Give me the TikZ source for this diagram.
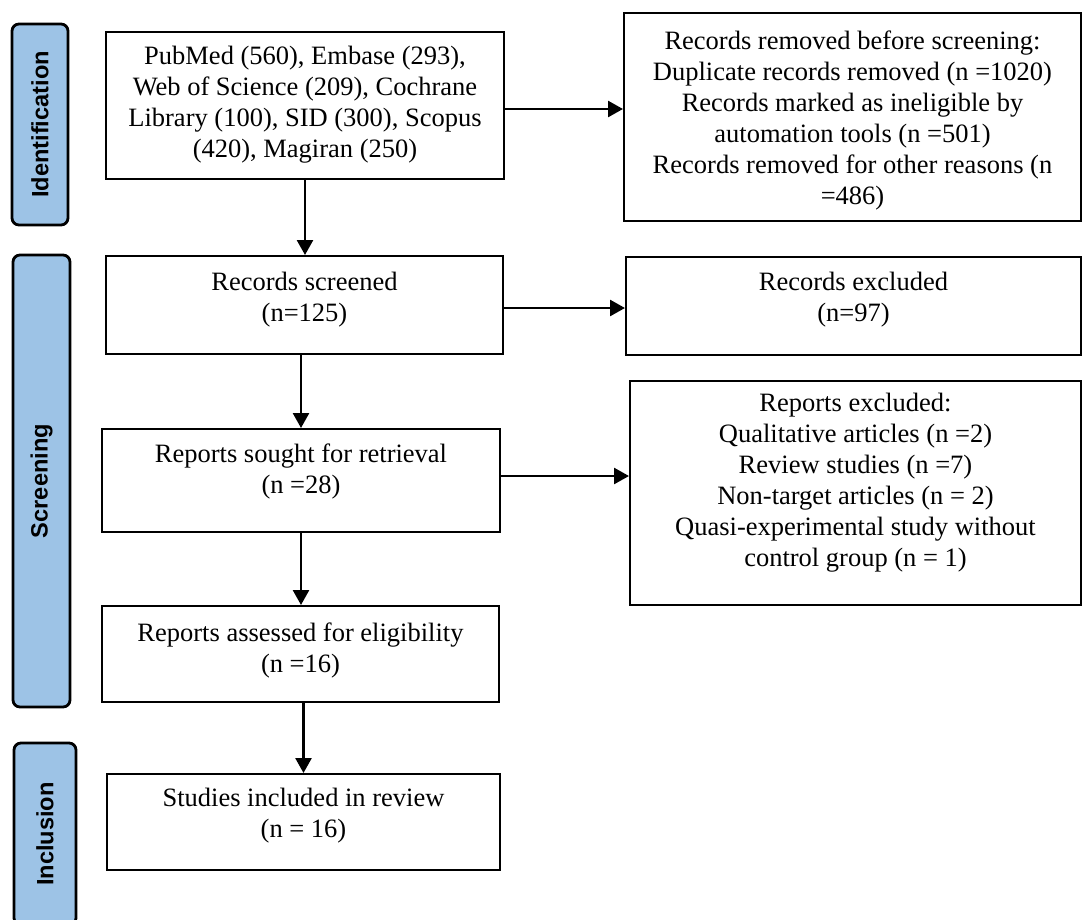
\documentclass[tikz,border=0pt]{standalone}
\usepackage{fontspec}
\setmainfont{Liberation Serif}
\newfontfamily\labfont{Liberation Sans}
\usetikzlibrary{arrows.meta,calc}
\definecolor{phase}{RGB}{157,195,230}
\tikzset{
  box/.style={draw=black,line width=2.8pt,inner sep=0pt,outer sep=0pt,fill=white},
  txt/.style={align=center,inner sep=0pt,font=\fontsize{26.5}{31}\selectfont},
  phasebox/.style={draw=black,line width=2.8pt,fill=phase,rounded corners=7pt,inner sep=0pt,outer sep=0pt},
  phasetxt/.style={rotate=90,inner sep=0pt,font=\labfont\bfseries\fontsize{23.6}{28}\selectfont},
  arr/.style={line width=2.6pt,-{Triangle[length=15pt,width=16pt]},shorten >=1pt}
}
\begin{document}
\begin{tikzpicture}[x=1pt,y=-1pt]
\useasboundingbox (0,0) rectangle (1083,919);
\begin{scope}
\clip (0,0) rectangle (1083,919);
% phase boxes
\node[phasebox,minimum width=56pt,minimum height=201pt] (pid) at (40,124.5) {};
\node[phasetxt] (pidt) at (pid.center) {Identification};
\node[phasebox,minimum width=57pt,minimum height=452pt] (pscr) at (41.5,481) {};
\node[phasetxt] (pscrt) at (pscr.center) {Screening};
\node[phasebox,minimum width=62pt,minimum height=182pt] (pinc) at (45,834) {};
\node[phasetxt] (pinct) at (pinc.center) {Inclusion};
\end{scope}
% boxes
\node[box,minimum width=398pt,minimum height=147pt] (b1) at (305,105.5) {};
\node[txt] (b1t) at ([yshift=1pt]b1.center) {PubMed (560), Embase (293),\\Web of Science (209), Cochrane\\Library (100), SID (300), Scopus\\(420), Magiran (250)};
\node[box,minimum width=457pt,minimum height=208pt] (rem) at (852.5,117) {};
\node[txt] (remt) at ([yshift=-3pt]rem.center) {Records removed before screening:\\Duplicate records removed (n =1020)\\Records marked as ineligible by\\automation tools (n =501)\\Records removed for other reasons (n\\=486)};
\node[box,minimum width=397pt,minimum height=98pt] (scr) at (304.5,305) {};
\node[txt] (scrt) at ([yshift=5pt]scr.center) {Records screened\\(n=125)};
\node[box,minimum width=455pt,minimum height=98pt] (exc) at (853.5,306) {};
\node[txt] (exct) at ([yshift=6pt]exc.center) {Records excluded\\(n=97)};
\node[box,minimum width=398pt,minimum height=103pt] (sou) at (301,480.5) {};
\node[txt] (sout) at ([yshift=9pt]sou.center) {Reports sought for retrieval\\(n =28)};
\node[box,minimum width=451pt,minimum height=224pt] (rex) at (855.5,493) {};
\node[txt] (rext) at ([yshift=10pt]rex.center) {Reports excluded:\\Qualitative articles (n =2)\\Review studies (n =7)\\Non-target articles (n = 2)\\Quasi-experimental study without\\control group (n = 1)};
\node[box,minimum width=397pt,minimum height=96pt] (ass) at (300.5,654) {};
\node[txt] (asst) at ([yshift=4pt]ass.center) {Reports assessed for eligibility\\(n =16)};
\node[box,minimum width=393pt,minimum height=96pt] (inc) at (303.5,822) {};
\node[txt] (inct) at ([yshift=6pt]inc.center) {Studies included in review\\(n = 16)};
% connectors
\draw[arr] (b1.south) -- (scr.north -| b1.south);
\draw[arr] (scr.south -| sou.north) -- (sou.north);
\draw[arr] (sou.south) -- (ass.north -| sou.south);
\draw[arr] (ass.south -| inc.north) -- (inc.north);
\draw[arr] ([yshift=-3.5pt]b1.east) -- ([yshift=-3.5pt]b1.east -| rem.west);
\draw[arr] ([yshift=-3pt]scr.east) -- ([yshift=-3pt]scr.east -| exc.west);
\draw[arr] ([yshift=4.5pt]sou.east) -- ([yshift=4.5pt]sou.east -| rex.west);
\end{tikzpicture}
\end{document}
